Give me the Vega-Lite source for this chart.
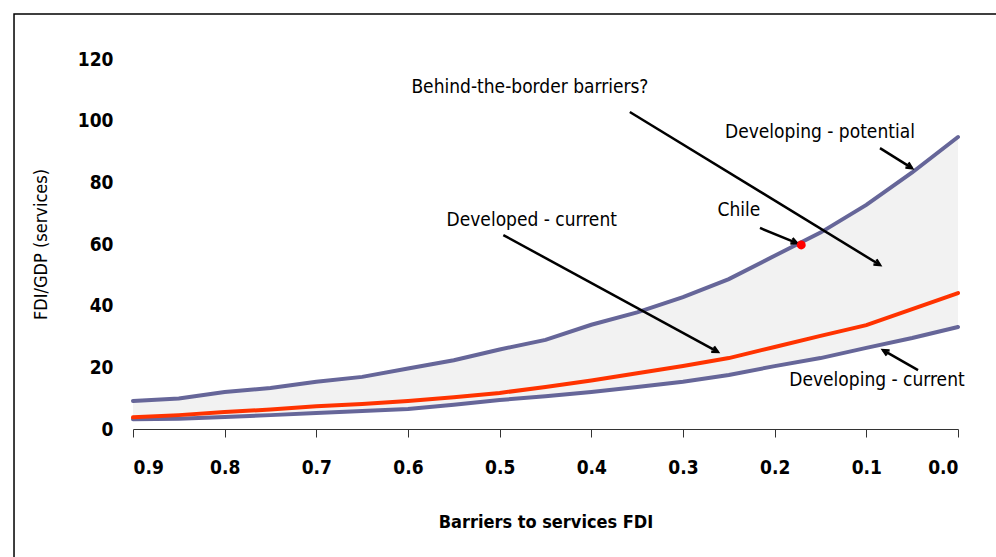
{
  "$schema": "https://vega.github.io/schema/vega-lite/v6.json",
  "width": 825,
  "height": 370,
  "autosize": {"type": "none"},
  "padding": {"left": 133, "top": 59, "right": 38, "bottom": 128},
  "background": "white",
  "config": {
    "view": {"stroke": null},
    "font": "Liberation Sans Narrow, DejaVu Sans Condensed, sans-serif"
  },
  "datasets": {
    "band": [
      {"x": 0.9, "lo": 3.2, "hi": 9.1},
      {"x": 0.85, "lo": 3.3, "hi": 9.9},
      {"x": 0.8, "lo": 3.9, "hi": 12.0},
      {"x": 0.75, "lo": 4.5, "hi": 13.3},
      {"x": 0.7, "lo": 5.2, "hi": 15.3},
      {"x": 0.65, "lo": 5.8, "hi": 16.9},
      {"x": 0.6, "lo": 6.5, "hi": 19.6},
      {"x": 0.55, "lo": 7.9, "hi": 22.3},
      {"x": 0.5, "lo": 9.4, "hi": 25.8},
      {"x": 0.45, "lo": 10.6, "hi": 28.9},
      {"x": 0.4, "lo": 12.0, "hi": 33.8},
      {"x": 0.35, "lo": 13.6, "hi": 37.8},
      {"x": 0.3, "lo": 15.3, "hi": 42.8},
      {"x": 0.25, "lo": 17.5, "hi": 48.6},
      {"x": 0.2, "lo": 20.4, "hi": 56.2},
      {"x": 0.15, "lo": 23.0, "hi": 63.7},
      {"x": 0.1, "lo": 26.3, "hi": 72.7},
      {"x": 0.05, "lo": 29.5, "hi": 83.2},
      {"x": 0.0, "lo": 33.1, "hi": 94.7}
    ],
    "curves": [
      {"series": "Developing - potential", "x": 0.9, "y": 9.1},
      {"series": "Developing - potential", "x": 0.85, "y": 9.9},
      {"series": "Developing - potential", "x": 0.8, "y": 12.0},
      {"series": "Developing - potential", "x": 0.75, "y": 13.3},
      {"series": "Developing - potential", "x": 0.7, "y": 15.3},
      {"series": "Developing - potential", "x": 0.65, "y": 16.9},
      {"series": "Developing - potential", "x": 0.6, "y": 19.6},
      {"series": "Developing - potential", "x": 0.55, "y": 22.3},
      {"series": "Developing - potential", "x": 0.5, "y": 25.8},
      {"series": "Developing - potential", "x": 0.45, "y": 28.9},
      {"series": "Developing - potential", "x": 0.4, "y": 33.8},
      {"series": "Developing - potential", "x": 0.35, "y": 37.8},
      {"series": "Developing - potential", "x": 0.3, "y": 42.8},
      {"series": "Developing - potential", "x": 0.25, "y": 48.6},
      {"series": "Developing - potential", "x": 0.2, "y": 56.2},
      {"series": "Developing - potential", "x": 0.15, "y": 63.7},
      {"series": "Developing - potential", "x": 0.1, "y": 72.7},
      {"series": "Developing - potential", "x": 0.05, "y": 83.2},
      {"series": "Developing - potential", "x": 0.0, "y": 94.7},
      {"series": "Developing - current", "x": 0.9, "y": 3.2},
      {"series": "Developing - current", "x": 0.85, "y": 3.3},
      {"series": "Developing - current", "x": 0.8, "y": 3.9},
      {"series": "Developing - current", "x": 0.75, "y": 4.5},
      {"series": "Developing - current", "x": 0.7, "y": 5.2},
      {"series": "Developing - current", "x": 0.65, "y": 5.8},
      {"series": "Developing - current", "x": 0.6, "y": 6.5},
      {"series": "Developing - current", "x": 0.55, "y": 7.9},
      {"series": "Developing - current", "x": 0.5, "y": 9.4},
      {"series": "Developing - current", "x": 0.45, "y": 10.6},
      {"series": "Developing - current", "x": 0.4, "y": 12.0},
      {"series": "Developing - current", "x": 0.35, "y": 13.6},
      {"series": "Developing - current", "x": 0.3, "y": 15.3},
      {"series": "Developing - current", "x": 0.25, "y": 17.5},
      {"series": "Developing - current", "x": 0.2, "y": 20.4},
      {"series": "Developing - current", "x": 0.15, "y": 23.0},
      {"series": "Developing - current", "x": 0.1, "y": 26.3},
      {"series": "Developing - current", "x": 0.05, "y": 29.5},
      {"series": "Developing - current", "x": 0.0, "y": 33.1},
      {"series": "Developed - current", "x": 0.9, "y": 3.8},
      {"series": "Developed - current", "x": 0.85, "y": 4.5},
      {"series": "Developed - current", "x": 0.8, "y": 5.5},
      {"series": "Developed - current", "x": 0.75, "y": 6.3},
      {"series": "Developed - current", "x": 0.7, "y": 7.4},
      {"series": "Developed - current", "x": 0.65, "y": 8.1},
      {"series": "Developed - current", "x": 0.6, "y": 9.1},
      {"series": "Developed - current", "x": 0.55, "y": 10.3},
      {"series": "Developed - current", "x": 0.5, "y": 11.7},
      {"series": "Developed - current", "x": 0.45, "y": 13.6},
      {"series": "Developed - current", "x": 0.4, "y": 15.7},
      {"series": "Developed - current", "x": 0.35, "y": 18.1},
      {"series": "Developed - current", "x": 0.3, "y": 20.4},
      {"series": "Developed - current", "x": 0.25, "y": 23.0},
      {"series": "Developed - current", "x": 0.2, "y": 26.6},
      {"series": "Developed - current", "x": 0.15, "y": 30.2},
      {"series": "Developed - current", "x": 0.1, "y": 33.7},
      {"series": "Developed - current", "x": 0.05, "y": 38.9},
      {"series": "Developed - current", "x": 0.0, "y": 44.1}
    ],
    "labels": [
      {"x": 0.467, "y": 110.9, "label": "Behind-the-border barriers?"},
      {"x": 0.1506, "y": 96.3, "label": "Developing - potential"},
      {"x": 0.239, "y": 71.0, "label": "Chile"},
      {"x": 0.465, "y": 67.8, "label": "Developed - current"},
      {"x": 0.0884, "y": 15.9, "label": "Developing - current"}
    ],
    "arrows": [
      {"x": 0.358, "y": 102.8, "x2": 0.0851, "y2": 53.2, "angle": 121.5},
      {"x": 0.0851, "y": 91.1, "x2": 0.0502, "y2": 84.6, "angle": 122},
      {"x": 0.216, "y": 65.2, "x2": 0.1757, "y2": 60.3, "angle": 112.1},
      {"x": 0.496, "y": 62.9, "x2": 0.262, "y2": 25.0, "angle": 118.5},
      {"x": 0.0436, "y": 19.1, "x2": 0.0818, "y2": 25.6, "angle": 299.7}
    ],
    "chile": [{"country": "Chile", "x": 0.171, "y": 59.7}],
    "frame": [{"x": 1.0298, "x2": -0.06, "y": 134.6, "y2": -45}]
  },
  "layer": [
    {
      "data": {"name": "frame"},
      "mark": {"type": "rect", "filled": false, "stroke": "black", "strokeWidth": 1.5, "clip": false},
      "encoding": {
        "x": {"field": "x", "type": "quantitative", "scale": {"domain": [0, 0.9], "reverse": true}},
        "x2": {"field": "x2"},
        "y": {"field": "y", "type": "quantitative", "scale": {"domain": [0, 120]}},
        "y2": {"field": "y2"}
      }
    },
    {
      "data": {"name": "band"},
      "mark": {"type": "area", "fill": "#f2f2f2"},
      "encoding": {
        "x": {"field": "x", "type": "quantitative"},
        "y": {"field": "lo", "type": "quantitative"},
        "y2": {"field": "hi"}
      }
    },
    {
      "data": {"name": "curves"},
      "mark": {"type": "line", "strokeWidth": 4, "strokeCap": "round"},
      "encoding": {
        "x": {
          "field": "x", "type": "quantitative",
          "axis": {
            "values": [0.9, 0.8, 0.7, 0.6, 0.5, 0.4, 0.3, 0.2, 0.1, 0.0],
            "format": ".1f", "grid": false,
            "domainColor": "#333333", "tickColor": "#333333", "tickSize": 8,
            "labelFontSize": 19, "labelFontWeight": "bold", "labelColor": "black",
            "labelPadding": 21,
            "title": "Barriers to services FDI", "titleFontSize": 18, "titleFontWeight": "bold",
            "titleColor": "black", "titlePadding": 36
          }
        },
        "y": {
          "field": "y", "type": "quantitative",
          "axis": {
            "values": [0, 20, 40, 60, 80, 100, 120], "grid": false, "domain": false, "ticks": false,
            "labelFontSize": 19, "labelFontWeight": "bold", "labelColor": "black", "labelPadding": 20,
            "title": "FDI/GDP (services)", "titleFontSize": 18, "titleFontWeight": "normal",
            "titleColor": "black", "titlePadding": 27
          }
        },
        "color": {
          "field": "series", "type": "nominal", "legend": null,
          "scale": {
            "domain": ["Developing - potential", "Developing - current", "Developed - current"],
            "range": ["#666699", "#666699", "#ff3300"]
          }
        },
        "order": {"field": "x", "sort": "descending"}
      }
    },
    {
      "data": {"name": "arrows"},
      "mark": {"type": "rule", "stroke": "black", "strokeWidth": 2.5},
      "encoding": {
        "x": {"field": "x", "type": "quantitative"},
        "y": {"field": "y", "type": "quantitative"},
        "x2": {"field": "x2"},
        "y2": {"field": "y2"}
      }
    },
    {
      "data": {"name": "arrows"},
      "mark": {"type": "point", "shape": "M -0.5 1 L 0 0 L 0.5 1", "filled": false, "stroke": "black", "strokeWidth": 2.5, "size": 140, "opacity": 1},
      "encoding": {
        "x": {"field": "x2", "type": "quantitative"},
        "y": {"field": "y2", "type": "quantitative"},
        "angle": {"field": "angle", "type": "quantitative", "scale": null}
      }
    },
    {
      "data": {"name": "chile"},
      "mark": {"type": "circle", "color": "#ff0000", "size": 80, "opacity": 1},
      "encoding": {
        "x": {"field": "x", "type": "quantitative"},
        "y": {"field": "y", "type": "quantitative"}
      }
    },
    {
      "data": {"name": "labels"},
      "mark": {"type": "text", "fontSize": 19, "color": "black", "align": "center", "baseline": "middle"},
      "encoding": {
        "x": {"field": "x", "type": "quantitative"},
        "y": {"field": "y", "type": "quantitative"},
        "text": {"field": "label"}
      }
    }
  ]
}
